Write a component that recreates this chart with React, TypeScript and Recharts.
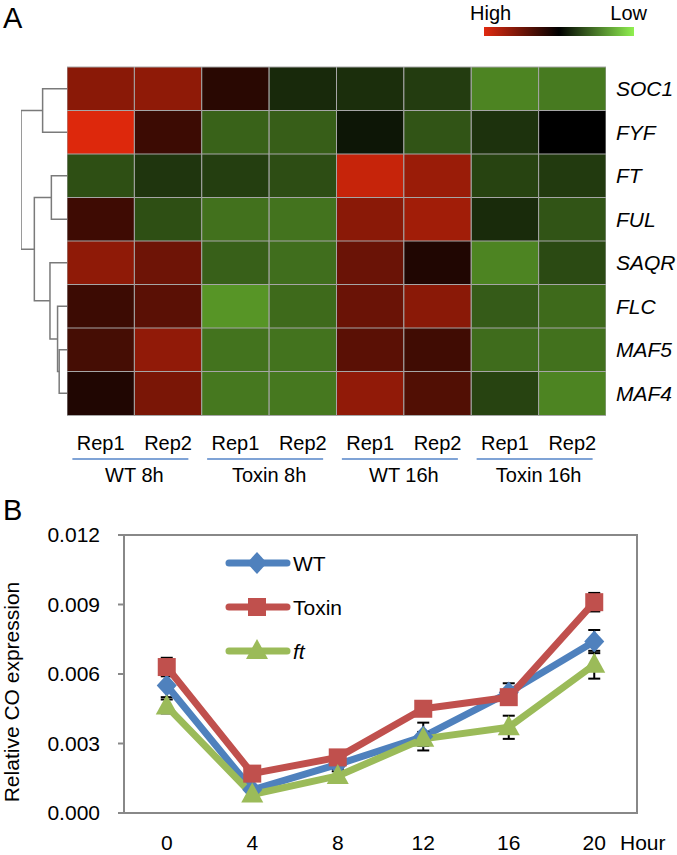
import {
  BarChart,
  Bar,
  Cell,
  XAxis,
  YAxis,
  ComposedChart,
  Scatter,
  LineChart,
  Line,
  ErrorBar,
  ReferenceArea,
  Legend,
  Label,
} from "recharts"

const FONT = '"Liberation Sans", Arial, sans-serif'

// ---- panel A: heatmap ----
const genes = ["SOC1", "FYF", "FT", "FUL", "SAQR", "FLC", "MAF5", "MAF4"]
const reps = ["Rep1", "Rep2", "Rep1", "Rep2", "Rep1", "Rep2", "Rep1", "Rep2"]
const groups = ["WT 8h", "Toxin 8h", "WT 16h", "Toxin 16h"]

// scaled expression per column; positive = high (red), negative = low (green)
const soc1Row = [0.6, 0.62, 0.18, -0.17, -0.19, -0.25, -0.55, -0.51]
const fyfRow = [0.96, 0.26, -0.41, -0.39, -0.09, -0.35, -0.21, 0]
const ftRow = [-0.33, -0.22, -0.26, -0.32, 0.86, 0.67, -0.28, -0.24]
const fulRow = [0.27, -0.33, -0.47, -0.48, 0.6, 0.7, -0.18, -0.35]
const saqrRow = [0.62, 0.48, -0.4, -0.46, 0.46, 0.14, -0.55, -0.31]
const flcRow = [0.26, 0.39, -0.62, -0.44, 0.46, 0.6, -0.38, -0.44]
const maf5Row = [0.3, 0.63, -0.48, -0.48, 0.39, 0.28, -0.45, -0.47]
const maf4Row = [0.14, 0.53, -0.5, -0.5, 0.63, 0.35, -0.28, -0.55]
const heatRows = [soc1Row, fyfRow, ftRow, fulRow, saqrRow, flcRow, maf5Row, maf4Row]

// row clustering: a/b are gene indexes (0-7) or earlier merges (8+), h = distance
const merges = [
  { a: 6, b: 7, h: 0.17 },
  { a: 5, b: 8, h: 0.205 },
  { a: 2, b: 3, h: 0.34 },
  { a: 4, b: 9, h: 0.37 },
  { a: 0, b: 1, h: 0.53 },
  { a: 10, b: 11, h: 0.71 },
  { a: 12, b: 13, h: 1 },
]

// ---- panel B: CO expression ----
const hours = ["0", "4", "8", "12", "16", "20"]
const wtCO = [0.0055, 0.001, 0.0021, 0.0033, 0.0052, 0.0074]
const wtErr = [0.0005, 0.0001, 0.0002, 0.0006, 0.0004, 0.0005]
const toxinCO = [0.0063, 0.0017, 0.0024, 0.0045, 0.005, 0.0091]
const toxinErr = [0.0004, 0.0001, 0.0001, 0.0001, 0.0002, 0.0004]
const ftCO = [0.0046, 0.0008, 0.0016, 0.0032, 0.0037, 0.0064]
const ftErr = [0.0003, 0.0001, 0.0002, 0.0003, 0.0005, 0.0006]
const yTicks = [0, 0.003, 0.006, 0.009, 0.012]

const series = [
  { key: "wt", name: "WT", color: "#4F81BD", shape: "diamond", italic: false },
  { key: "toxin", name: "Toxin", color: "#C0504D", shape: "square", italic: false },
  { key: "ft", name: "ft", color: "#9BBB59", shape: "triangle", italic: true },
]

function heatColor(v: number) {
  const t = Math.abs(v)
  const c = v >= 0 ? [230, 42, 12] : [140, 240, 62]
  return `rgb(${Math.round(c[0] * t)},${Math.round(c[1] * t)},${Math.round(c[2] * t)})`
}

const heatData = genes.map((gene) => {
  const row: any = { gene }
  reps.forEach((_, c) => {
    row[`c${c}`] = 1
  })
  return row
})
const repTicks = reps.map((_, i) => i + 0.5)
const groupTicks = groups.map((_, i) => i * 2 + 1)

// elbow path for every merge: child a -> node height -> child b
const nodeY = genes.map((_, i) => i + 0.5)
const nodeH = genes.map(() => 0)
const branches: any[] = []
merges.forEach((m) => {
  const ya = nodeY[m.a]
  const yb = nodeY[m.b]
  branches.push([
    { x: nodeH[m.a], y: ya },
    { x: m.h, y: ya },
    { x: m.h, y: yb },
    { x: nodeH[m.b], y: yb },
  ])
  nodeY.push((ya + yb) / 2)
  nodeH.push(m.h)
})

const lineData = hours.map((hour, i) => ({
  hour,
  wt: wtCO[i],
  wtErr: wtErr[i],
  toxin: toxinCO[i],
  toxinErr: toxinErr[i],
  ft: ftCO[i],
  ftErr: ftErr[i],
}))

function Marker({ shape, cx, cy, color }: any) {
  if (shape === "diamond")
    return <path d={`M${cx},${cy - 11}L${cx + 10},${cy}L${cx},${cy + 11}L${cx - 10},${cy}Z`} fill={color} />
  if (shape === "square") return <rect x={cx - 9} y={cy - 9} width={18} height={18} fill={color} />
  return <path d={`M${cx},${cy - 12}L${cx + 11},${cy + 8}L${cx - 11},${cy + 8}Z`} fill={color} />
}

const NoDot = () => <g />

const RepTick = ({ x, y, payload }: any) => (
  <text x={x} y={y + 33} textAnchor="middle" fontSize={20} fill="#000">
    {reps[Math.floor(payload.value)]}
  </text>
)

const GroupTick = ({ x, y, payload }: any) => (
  <g>
    <line x1={x - 62} x2={x + 54} y1={y + 2} y2={y + 2} stroke="#7FA3D6" strokeWidth={2} />
    <text x={x} y={y + 25} textAnchor="middle" fontSize={20} fill="#000">
      {groups[(payload.value - 1) / 2]}
    </text>
  </g>
)

const CoLegend = () => (
  <svg width={170} height={130}>
    {series.map((s, i) => {
      const y = 13 + i * 44
      return (
        <g key={s.key}>
          <line x1={4} x2={62} y1={y} y2={y} stroke={s.color} strokeWidth={7} strokeLinecap="round" />
          <Marker shape={s.shape} cx={32} cy={y} color={s.color} />
          <text x={68} y={y + 7.5} fontSize={21} fill="#000" fontStyle={s.italic ? "italic" : "normal"}>
            {s.name}
          </text>
        </g>
      )
    })}
  </svg>
)

const YTitle = ({ viewBox }: any) => {
  const cy = viewBox.y + viewBox.height / 2 + 18
  return (
    <text x={19} y={cy} transform={`rotate(-90, 19, ${cy})`} textAnchor="middle" fontSize={21} fill="#000">
      Relative CO expression
    </text>
  )
}

const HourLabel = ({ viewBox }: any) => (
  <text x={viewBox.x + viewBox.width - 17} y={viewBox.y + 37} fontSize={21} fill="#000">
    Hour
  </text>
)

export default function App() {
  return (
    <div
      style={{
        position: "absolute",
        left: 0,
        top: 0,
        width: 677,
        height: 855,
        background: "#fff",
        fontFamily: FONT,
      }}
    >
      <svg width={677} height={40} style={{ position: "absolute", left: 0, top: 0 }}>
        <defs>
          <linearGradient id="hiLo" x1="0" x2="1" y1="0" y2="0">
            <stop offset="0%" stopColor="#E02A10" />
            <stop offset="50%" stopColor="#000" />
            <stop offset="100%" stopColor="#90F050" />
          </linearGradient>
        </defs>
        <text x={3} y={28} fontSize={29} fill="#000">A</text>
        <text x={470} y={20} fontSize={20} fill="#000">High</text>
        <text x={647} y={20} fontSize={20} fill="#000" textAnchor="end">Low</text>
        <rect x={484} y={27} width={150} height={9} fill="url(#hiLo)" />
      </svg>

      <div style={{ position: "absolute", left: 0, top: 0 }}>
        <BarChart
          width={677}
          height={500}
          data={heatData}
          layout="vertical"
          barCategoryGap={0}
          margin={{ top: 67, right: 0, bottom: 0, left: 67 }}
        >
          <XAxis
            type="number"
            domain={[0, 8]}
            allowDataOverflow
            ticks={repTicks}
            interval={0}
            axisLine={false}
            tickLine={false}
            tickSize={0}
            height={40}
            tick={RepTick}
          />
          <XAxis
            xAxisId="grp"
            type="number"
            domain={[0, 8]}
            allowDataOverflow
            ticks={groupTicks}
            interval={0}
            axisLine={false}
            tickLine={false}
            tickSize={0}
            height={45}
            tick={GroupTick}
          />
          <YAxis
            type="category"
            dataKey="gene"
            orientation="right"
            width={71}
            axisLine={false}
            tickLine={false}
            tickSize={0}
            tickMargin={10}
            tick={{ fontSize: 21, fontStyle: "italic", fill: "#000" }}
          />
          {reps.map((_, c) => (
            <Bar
              key={c}
              dataKey={`c${c}`}
              stackId="h"
              stroke="#a6a6a6"
              strokeWidth={1}
              isAnimationActive={false}
            >
              {heatRows.map((row, r) => (
                <Cell key={r} fill={heatColor(row[c])} />
              ))}
            </Bar>
          ))}
        </BarChart>
      </div>

      <div style={{ position: "absolute", left: 0, top: 0 }}>
        <ComposedChart width={67} height={430} margin={{ top: 67, right: 0, bottom: 15, left: 21 }}>
          <XAxis type="number" dataKey="x" domain={[0, 1]} allowDataOverflow reversed hide />
          <YAxis type="number" dataKey="y" domain={[0, 8]} allowDataOverflow reversed hide width={0} />
          {branches.map((b, i) => (
            <Scatter
              key={i}
              data={b}
              line={{ stroke: "#7a7a7a", strokeWidth: 1.5 }}
              lineType="joint"
              shape={NoDot}
              isAnimationActive={false}
            />
          ))}
        </ComposedChart>
      </div>

      <svg width={40} height={30} style={{ position: "absolute", left: 0, top: 495 }}>
        <text x={3} y={25} fontSize={29} fill="#000">B</text>
      </svg>

      <div style={{ position: "absolute", left: 0, top: 500 }}>
        <LineChart width={677} height={355} data={lineData} margin={{ top: 35, right: 40, bottom: 0, left: 0 }}>
          <ReferenceArea y1={0} y2={0.012} fill="none" stroke="#888" strokeWidth={2} ifOverflow="visible" />
          <XAxis
            dataKey="hour"
            scale="band"
            height={42}
            interval={0}
            tickLine={false}
            tickSize={0}
            tickMargin={22}
            axisLine={{ stroke: "#888", strokeWidth: 2 }}
            tick={{ fontSize: 21, fill: "#000" }}
          >
            <Label content={HourLabel} />
          </XAxis>
          <YAxis
            width={124}
            domain={[0, 0.012]}
            ticks={yTicks}
            interval={0}
            tickFormatter={(v: number) => v.toFixed(3)}
            axisLine={{ stroke: "#888", strokeWidth: 2 }}
            tickLine={{ stroke: "#888", strokeWidth: 2 }}
            tickSize={6}
            tickMargin={18}
            tick={{ fontSize: 21, fill: "#000" }}
          >
            <Label content={YTitle} />
          </YAxis>
          <Legend
            verticalAlign="middle"
            align="center"
            content={CoLegend}
            wrapperStyle={{ position: "absolute", top: 50, left: 225, width: 170, height: 130 }}
          />
          {series.map((s) => (
            <Line
              key={s.key}
              dataKey={s.key}
              name={s.name}
              stroke={s.color}
              strokeWidth={7}
              strokeLinejoin="round"
              isAnimationActive={false}
              activeDot={false}
              dot={(p: any) => <Marker key={`${s.key}-${p.index}`} shape={s.shape} cx={p.cx} cy={p.cy} color={s.color} />}
            >
              <ErrorBar dataKey={`${s.key}Err`} width={6} stroke="#000" strokeWidth={2} direction="y" />
            </Line>
          ))}
        </LineChart>
      </div>
    </div>
  )
}
